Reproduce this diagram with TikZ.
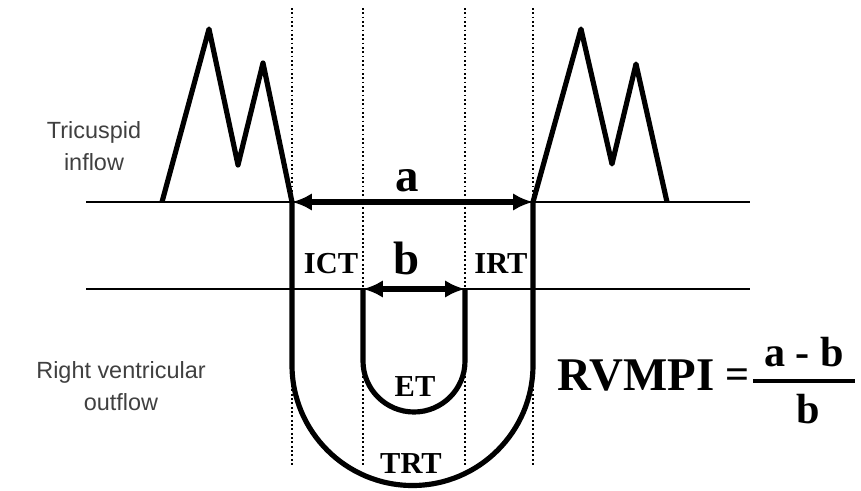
\documentclass[tikz,border=0pt]{standalone}
\usepackage{fontspec}
\setmainfont{Liberation Serif}
\setsansfont{Liberation Sans}
\usetikzlibrary{arrows.meta}
\tikzset{
  baseline/.style={line width=1.8pt},
  trace/.style={line width=4.4pt, line join=round},
  guide/.style={line width=1.5pt, dash pattern=on 1.5pt off 2.2pt},
  span/.style={line width=4.4pt, {Latex[length=17pt,width=15pt]}-{Latex[length=17pt,width=15pt]}},
  interval/.style={inner sep=0pt, font=\bfseries\fontsize{26}{28}\selectfont},
  letter/.style={inner sep=0pt, font=\bfseries\fontsize{40}{44}\selectfont},
  formula/.style={inner sep=0pt, font=\bfseries\fontsize{36}{40}\selectfont},
  side/.style={inner sep=0pt, align=center, font=\sffamily\fontsize{20}{27}\selectfont, text=black!75}
}
\begin{document}
\begin{tikzpicture}[x=0.03cm,y=-0.03cm]
  \useasboundingbox (0,0) rectangle (861,490);
  \foreach \gx/\gname in {292/ict,363/etl,465/etr,533/irt} {
    \coordinate (\gname top) at (\gx,8);
    \coordinate (\gname bot) at (\gx,467);
    \draw[guide] (\gname top) -- (\gname bot);
  }
  \coordinate (inL) at (86,202);
  \coordinate (inR) at (750,202);
  \coordinate (outL) at (86,289);
  \coordinate (outR) at (750,289);
  \draw[baseline] (inL) -- (inR);
  \draw[baseline] (outL) -- (outR);
  % tricuspid E and A waves
  \draw[trace] (162,202) -- (209,29) -- (238,165) -- (263,63) -- (292,202);
  \draw[trace] (533,202) -- (581,29) -- (612,164) -- (636,64) -- (667,202);
  % outflow envelopes
  \coordinate (a0) at (292,202);
  \coordinate (a1) at (533,202);
  \coordinate (b0) at (363,289);
  \coordinate (b1) at (465,289);
  \draw[trace] (a0) -- (292,365) arc[start angle=180,end angle=0,radius=120.5] -- (a1);
  \draw[trace] (b0) -- (363,361) arc[start angle=180,end angle=0,radius=51] -- (b1);
  \draw[span] (a0) -- (a1);
  \draw[span] (b0) -- (b1);
  \node[letter] (la) at (407,181) {a};
  \node[letter] (lb) at (407,258) {b};
  \node[interval] (ict) at (331,264) {ICT};
  \node[interval] (irt) at (501,264) {IRT};
  \node[interval] (et) at (415,387) {ET};
  \node[interval] (trt) at (411,464) {TRT};
  \node[side] (tri) at (94,146) {Tricuspid\\inflow};
  \node[side] (rvo) at (121,386) {Right ventricular\\outflow};
  \node[formula, font=\bfseries\fontsize{40}{44}\selectfont] (rvmpi) at (636,376) {RVMPI};
  \node[formula] (eq) at (738,379) {=};
  \node[formula] (num) at (804,352) {a - b};
  \node[formula] (den) at (808,409) {b};
  \coordinate (barL) at (753,381);
  \coordinate (barR) at (855,381);
  \draw[line width=2.6pt] (barL) -- (barR);
\end{tikzpicture}
\end{document}
